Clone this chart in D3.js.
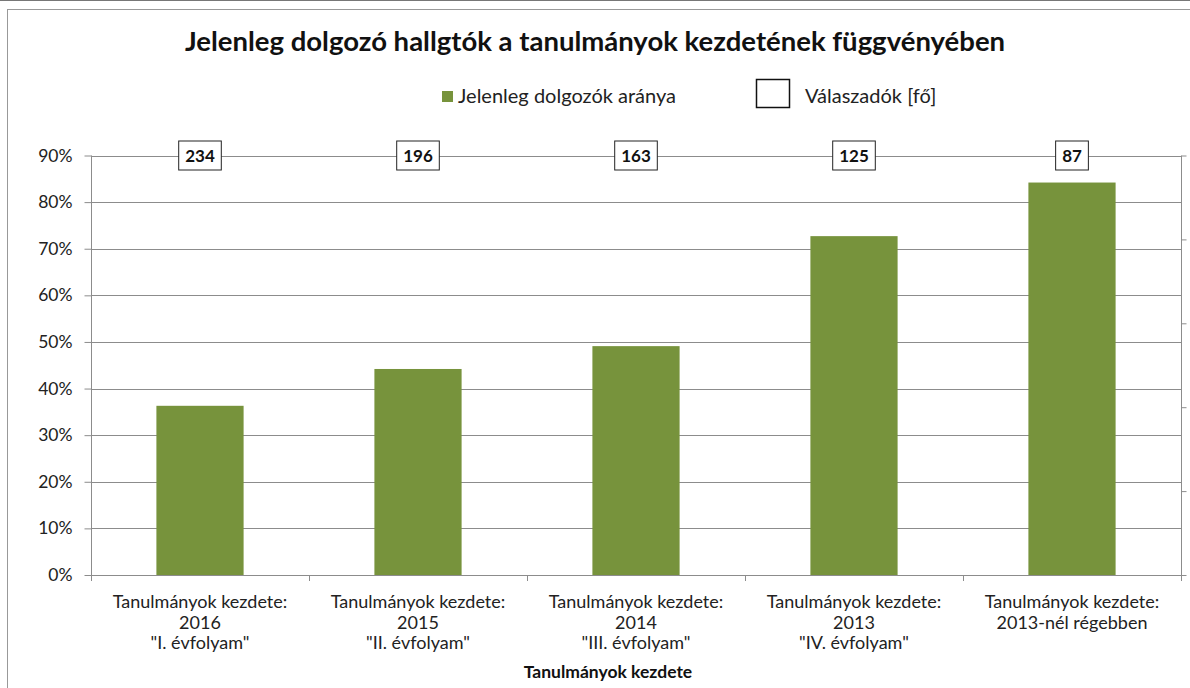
<!DOCTYPE html>
<html>
<head>
<meta charset="utf-8">
<script src="https://cdn.jsdelivr.net/npm/d3@7"></script>
<style>
  body { margin: 0; background: #fff; }
  svg text { font-family: Lato, "Noto Sans", sans-serif; }
</style>
</head>
<body>
<div id="chart"></div>
<script>
// chart data
const title = 'Jelenleg dolgozó hallgtók a tanulmányok kezdetének függvényében';
const categories = [
  ['Tanulmányok kezdete:', '2016', '"I. évfolyam"'],
  ['Tanulmányok kezdete:', '2015', '"II. évfolyam"'],
  ['Tanulmányok kezdete:', '2014', '"III. évfolyam"'],
  ['Tanulmányok kezdete:', '2013', '"IV. évfolyam"'],
  ['Tanulmányok kezdete:', '2013-nél régebben']
];
const workingShare = [0.363, 0.442, 0.491, 0.727, 0.842];
const respondents = [234, 196, 163, 125, 87];
const leftTicks = [0, 0.1, 0.2, 0.3, 0.4, 0.5, 0.6, 0.7, 0.8, 0.9];
const rightTicks = [0, 50, 100, 150, 200, 250];
const seriesNames = ['Jelenleg dolgozók aránya', 'Válaszadók [fő]'];
const xTitle = 'Tanulmányok kezdete';

const width = 1190, height = 688;
const margin = { top: 155.5, right: 9, bottom: 113, left: 91 };
const green = '#77933c';
const gridColor = '#8c8c8c';
const textColor = '#222';

const svg = d3.select('#chart').append('svg')
  .attr('width', width)
  .attr('height', height);

// frames
svg.append('line')
  .attr('x1', 0).attr('x2', width).attr('y1', 0.5).attr('y2', 0.5)
  .attr('stroke', '#777');
svg.append('rect')
  .attr('x', 7.5).attr('y', 9.5)
  .attr('width', width + 20).attr('height', height + 20)
  .attr('fill', 'none').attr('stroke', '#999');

const x = d3.scaleBand()
  .domain(d3.range(categories.length))
  .range([margin.left, width - margin.right])
  .paddingInner(0.6)
  .paddingOuter(0.3);

const y = d3.scaleLinear()
  .domain([0, 0.9])
  .range([height - margin.bottom, margin.top]);

const y2 = d3.scaleLinear()
  .domain([0, 250])
  .range([height - margin.bottom, margin.top]);

// gridlines
svg.append('g')
  .selectAll('line')
  .data(leftTicks.slice(1))
  .join('line')
    .attr('x1', margin.left)
    .attr('x2', width - margin.right)
    .attr('y1', d => Math.round(y(d)) + 0.5)
    .attr('y2', d => Math.round(y(d)) + 0.5)
    .attr('stroke', gridColor);

// left axis
const yAxis = d3.axisLeft(y)
  .tickValues(leftTicks)
  .tickFormat(d3.format('.0%'))
  .tickSize(7)
  .tickPadding(12);
const gy = svg.append('g')
  .attr('transform', `translate(${margin.left + 0.5},0)`)
  .call(yAxis);
gy.select('.domain').attr('stroke', gridColor).attr('d', `M0,${y(0.9)}V${y(0)}`);
gy.selectAll('.tick line').attr('stroke', gridColor);
gy.selectAll('.tick text')
  .attr('font-size', 17.5)
  .attr('fill', textColor)
  .style('font-family', 'Lato, sans-serif');

// right axis (no labels)
const y2Axis = d3.axisRight(y2)
  .tickValues(rightTicks)
  .tickFormat('')
  .tickSize(5);
const gy2 = svg.append('g')
  .attr('transform', `translate(${width - margin.right + 0.5},0)`)
  .call(y2Axis);
gy2.select('.domain').attr('stroke', gridColor).attr('d', `M0,${y2(250)}V${y2(0)}`);
gy2.selectAll('.tick line').attr('stroke', gridColor);

// bars
svg.append('g')
  .selectAll('rect')
  .data(workingShare)
  .join('rect')
    .attr('x', (d, i) => x(i))
    .attr('y', d => y(d))
    .attr('width', x.bandwidth())
    .attr('height', d => y(0) - y(d))
    .attr('fill', green);

// bottom axis line with ticks at category boundaries
const bounds = d3.range(categories.length + 1).map(i => margin.left + i * (width - margin.left - margin.right) / categories.length);
const gx = svg.append('g');
gx.append('line')
  .attr('x1', margin.left).attr('x2', width - margin.right)
  .attr('y1', Math.round(y(0)) + 0.5).attr('y2', Math.round(y(0)) + 0.5)
  .attr('stroke', gridColor);
gx.selectAll('line.tk')
  .data(bounds)
  .join('line')
    .attr('class', 'tk')
    .attr('x1', d => Math.round(d) + 0.5).attr('x2', d => Math.round(d) + 0.5)
    .attr('y1', y(0)).attr('y2', y(0) + 6)
    .attr('stroke', gridColor);

// category labels
const labels = svg.append('g')
  .selectAll('text')
  .data(categories)
  .join('text')
    .attr('x', (d, i) => x(i) + x.bandwidth() / 2)
    .attr('y', y(0) + 33)
    .attr('text-anchor', 'middle')
    .attr('font-size', 18)
    .attr('fill', textColor);
labels.selectAll('tspan')
  .data(d => d)
  .join('tspan')
    .attr('x', function() { return this.parentNode.getAttribute('x'); })
    .attr('dy', (d, i) => i === 0 ? 0 : 20.5)
    .text(d => d);

// axis title
svg.append('text')
  .attr('x', 608)
  .attr('y', 678)
  .attr('text-anchor', 'middle')
  .attr('font-size', 17.5)
  .attr('font-weight', 'bold')
  .attr('fill', '#111')
  .text(xTitle);

// respondents labels (boxes on the top gridline)
const boxes = svg.append('g')
  .selectAll('g')
  .data(respondents)
  .join('g')
    .attr('transform', (d, i) => `translate(${x(i) + x.bandwidth() / 2},${y(0.9)})`);
boxes.append('text')
  .attr('text-anchor', 'middle')
  .attr('dy', '0.36em')
  .attr('font-size', 17)
  .attr('font-weight', 'bold')
  .attr('fill', '#111')
  .text(d => d);
boxes.each(function() {
  const g = d3.select(this);
  const w = g.select('text').node().getComputedTextLength();
  g.insert('rect', 'text')
    .attr('x', -w / 2 - 6.5)
    .attr('y', -14.5)
    .attr('width', w + 13)
    .attr('height', 29)
    .attr('fill', '#fff')
    .attr('stroke', '#222');
});

// title
svg.append('text')
  .attr('x', 595)
  .attr('y', 51)
  .attr('text-anchor', 'middle')
  .attr('font-size', 27.5)
  .attr('font-weight', 'bold')
  .attr('fill', '#111')
  .text(title);

// legend
const legend = svg.append('g');
legend.append('rect')
  .attr('x', 442).attr('y', 91)
  .attr('width', 11).attr('height', 11)
  .attr('fill', green);
legend.append('text')
  .attr('x', 458).attr('y', 103)
  .attr('font-size', 20)
  .attr('fill', textColor)
  .text(seriesNames[0]);
legend.append('rect')
  .attr('x', 756.5).attr('y', 79.5)
  .attr('width', 33).attr('height', 28)
  .attr('fill', '#fff')
  .attr('stroke', '#111')
  .attr('stroke-width', 1.5);
legend.append('text')
  .attr('x', 805).attr('y', 103)
  .attr('font-size', 20)
  .attr('fill', textColor)
  .text(seriesNames[1]);
</script>
</body>
</html>
